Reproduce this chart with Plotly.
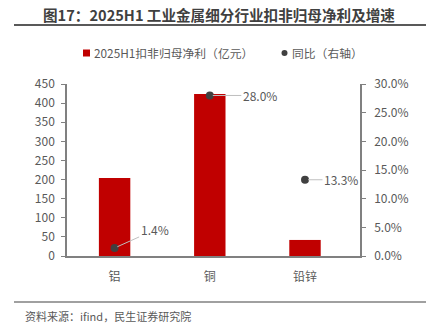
import plotly.graph_objects as go

categories = ["铝", "铜", "铅锌"]
profit = [204, 424, 42]
yoy = [0.014, 0.280, 0.133]
yoy_labels = ["1.4%", "28.0%", "13.3%"]
legend_names = ["2025H1扣非归母净利（亿元）", "同比（右轴）"]

FONT = "Noto Sans CJK SC"
GRAY = "#595959"
AXIS = "#808080"
RED = "#C00000"
DOT = "#404040"

W, L, T, H = 293, 67, 84, 172


def px(x):
    return (x - L) / W


def py(y):
    return (T + H - y) / H


fig = go.Figure()
fig.add_trace(go.Bar(
    x=categories, y=profit, name=legend_names[0],
    marker=dict(color=RED, line=dict(width=0)), width=0.33,
))
fig.add_trace(go.Scatter(
    x=categories, y=yoy, name=legend_names[1], yaxis="y2", mode="markers",
    marker=dict(color=DOT, size=8),
))

offsets = [(40, -18), (50, 0), (36, 0)]
for c, v, t, (ax, ay) in zip(categories, yoy, yoy_labels, offsets):
    fig.add_annotation(x=c, y=v, xref="x", yref="y2", text=t, showarrow=True,
                       arrowhead=0, arrowwidth=1, arrowcolor="#BFBFBF",
                       ax=ax, ay=ay, standoff=3,
                       font=dict(family=FONT, size=12, color=GRAY))

# title and source
fig.add_annotation(text="<b>图17：2025H1 工业金属细分行业扣非归母净利及增速</b>",
                   xref="paper", yref="paper", x=px(219), y=py(15),
                   showarrow=False, xanchor="center", yanchor="middle",
                   font=dict(family=FONT, size=14.6, color="#404040"))
fig.add_annotation(text="资料来源：ifind，民生证券研究院",
                   xref="paper", yref="paper", x=px(23), y=py(316),
                   showarrow=False, xanchor="left", yanchor="middle",
                   font=dict(family=FONT, size=11, color=GRAY))

# legend (manual)
fig.add_shape(type="rect", xref="paper", yref="paper",
              x0=px(83), x1=px(90), y0=py(56.5), y1=py(49.5),
              fillcolor=RED, line=dict(width=0))
fig.add_annotation(text=legend_names[0], xref="paper", yref="paper",
                   x=px(92), y=py(53), showarrow=False, xanchor="left", yanchor="middle",
                   font=dict(family=FONT, size=11.8, color=GRAY))
fig.add_shape(type="circle", xref="paper", yref="paper",
              x0=px(281.5), x1=px(287.5), y0=py(56), y1=py(50),
              fillcolor=DOT, line=dict(width=0))
fig.add_annotation(text=legend_names[1], xref="paper", yref="paper",
                   x=px(290), y=py(53), showarrow=False, xanchor="left", yanchor="middle",
                   font=dict(family=FONT, size=11.8, color=GRAY))

fig.add_shape(type="line", xref="paper", yref="paper",
              x0=px(14), x1=px(426), y0=py(25), y1=py(25),
              line=dict(color="#595959", width=2))
fig.add_shape(type="line", xref="paper", yref="paper",
              x0=px(14), x1=px(426), y0=py(302), y1=py(302),
              line=dict(color="#808080", width=1.5))

fig.update_layout(
    width=433, height=336,
    margin=dict(l=67, r=73, t=84, b=80),
    paper_bgcolor="white", plot_bgcolor="white",
    font=dict(family=FONT, size=12, color=GRAY),
    showlegend=False,
    xaxis=dict(showline=True, linecolor=AXIS, linewidth=1.5,
               ticks="outside", ticklen=9, tickcolor="rgba(0,0,0,0)",
               tickfont=dict(size=12, color=GRAY), showgrid=False),
    yaxis=dict(range=[0, 450], dtick=50, showline=True, linecolor=AXIS, linewidth=1.5,
               ticks="outside", ticklen=4, tickcolor=AXIS, showgrid=False, zeroline=False,
               ticklabelstandoff=4, tickfont=dict(size=12, color=GRAY)),
    yaxis2=dict(range=[0, 0.30], dtick=0.05, tickformat=".1%", overlaying="y", side="right",
                showline=True, linecolor=AXIS, linewidth=1.5, ticks="outside", ticklen=4,
                tickcolor=AXIS, showgrid=False, zeroline=False, ticklabelstandoff=6,
                tickfont=dict(size=12, color=GRAY)),
)

fig.write_html("out.html")
